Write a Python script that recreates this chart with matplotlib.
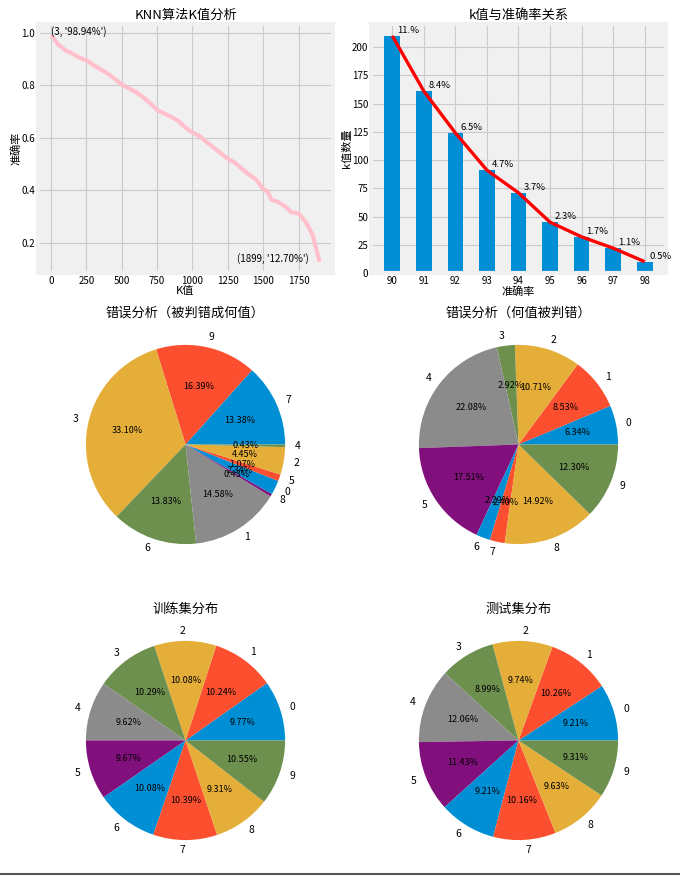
import numpy as np
import matplotlib
matplotlib.use("Agg")
import matplotlib.pyplot as plt
from matplotlib.lines import Line2D

plt.style.use('fivethirtyeight')
plt.rcParams['font.family'] = ['Noto Sans CJK SC', 'DejaVu Sans']
plt.rcParams['axes.unicode_minus'] = False
plt.rcParams['figure.facecolor'] = 'white'

# K值 -> 准确率
k_values = [3, 50, 100, 150, 200, 250, 300, 350, 400, 450, 500, 550, 600, 650,
            700, 750, 800, 850, 900, 950, 1000, 1050, 1100, 1150, 1200, 1250,
            1300, 1350, 1400, 1450, 1500, 1530, 1560, 1600, 1650, 1700, 1750,
            1800, 1850, 1899]
accuracy = [0.9894, 0.955, 0.933, 0.920, 0.904, 0.895, 0.876, 0.860, 0.844,
            0.824, 0.801, 0.788, 0.773, 0.754, 0.731, 0.705, 0.692, 0.679,
            0.663, 0.638, 0.619, 0.606, 0.583, 0.562, 0.540, 0.519, 0.504,
            0.481, 0.459, 0.440, 0.404, 0.395, 0.362, 0.356, 0.340, 0.315,
            0.311, 0.279, 0.228, 0.127]

# 准确率区间 -> k值数量
acc_bins = [90, 91, 92, 93, 94, 95, 96, 97, 98]
k_counts = [210, 161, 124, 91, 71, 45, 32, 22, 10]
k_share = ['11.%', '8.4%', '6.5%', '4.7%', '3.7%', '2.3%', '1.7%', '1.1%', '0.5%']

# 错误分析
wrong_as_labels = ['7', '9', '3', '6', '1', '8', '0', '5', '2', '4']
wrong_as_pct = [13.38, 16.39, 33.10, 13.83, 14.58, 0.43, 2.34, 1.07, 4.45, 0.43]
wrong_true_labels = ['0', '1', '2', '3', '4', '5', '6', '7', '8', '9']
wrong_true_pct = [6.34, 8.53, 10.71, 2.92, 22.08, 17.51, 2.29, 2.40, 14.92, 12.30]

# 数据集分布
digits = ['0', '1', '2', '3', '4', '5', '6', '7', '8', '9']
train_pct = [9.77, 10.24, 10.08, 10.29, 9.62, 9.67, 10.08, 10.39, 9.31, 10.55]
test_pct = [9.21, 10.26, 9.74, 8.99, 12.06, 11.43, 9.21, 10.16, 9.63, 9.31]

title_size = 9.5
tick_size = 7
label_size = 8

fig, axes = plt.subplots(3, 2, figsize=(6.8, 8.76), dpi=100)
fig.subplots_adjust(left=0.0559, right=0.9794, top=0.9726, bottom=0.0126,
                    wspace=0.1288, hspace=0.1888)

# KNN算法K值分析
ax = axes[0, 0]
ax.plot(k_values, accuracy, color='pink', linewidth=3)
ax.text(k_values[0], accuracy[0], "(3, '98.94%')", fontsize=7)
ax.annotate("(1899, '12.70%')", xy=(k_values[-1], accuracy[-1]),
            xytext=(-8, 0), textcoords='offset points', ha='right',
            fontsize=7)
ax.set_xticks([0, 250, 500, 750, 1000, 1250, 1500, 1750])
ax.set_yticks([0.2, 0.4, 0.6, 0.8, 1.0])
ax.set_title('KNN算法K值分析', fontsize=title_size, pad=4)
ax.set_xlabel('K值', fontsize=label_size, labelpad=0)
ax.set_ylabel('准确率', fontsize=label_size, labelpad=0)
ax.tick_params(labelsize=tick_size, pad=2)
ax.grid(linewidth=0.8)

# k值与准确率关系
ax = axes[0, 1]
ax.bar(acc_bins, k_counts, width=0.5, color='#008fd5')
ax.plot(acc_bins, k_counts, color='red', linewidth=2.4)
for x, h, s in zip(acc_bins, k_counts, k_share):
    ax.text(x + 0.5, h + 1, s, ha='center', va='bottom', fontsize=6.8)
ax.set_xticks(acc_bins)
ax.set_title('k值与准确率关系', fontsize=title_size, pad=4)
ax.set_xlabel('准确率', fontsize=label_size, labelpad=0)
ax.set_ylabel('k值数量', fontsize=label_size, labelpad=0)
ax.tick_params(labelsize=tick_size, pad=2)
ax.grid(linewidth=0.8)


def draw_pie(ax, values, labels, title):
    _, texts, autotexts = ax.pie(values, labels=labels, autopct='%.2f%%')
    for t in texts:
        t.set_fontsize(7.5)
    for t in autotexts:
        t.set_fontsize(6.5)
    ax.set_title(title, fontsize=title_size, pad=2)


draw_pie(axes[1, 0], wrong_as_pct, wrong_as_labels, '错误分析（被判错成何值）')
draw_pie(axes[1, 1], wrong_true_pct, wrong_true_labels, '错误分析（何值被判错）')
draw_pie(axes[2, 0], train_pct, digits, '训练集分布')
draw_pie(axes[2, 1], test_pct, digits, '测试集分布')

# thin border line along the bottom edge
fig.add_artist(Line2D([0, 1], [0.002, 0.002], transform=fig.transFigure,
                      color='#555555', linewidth=1.5))

fig.savefig('out.png', dpi=100, facecolor='white')
